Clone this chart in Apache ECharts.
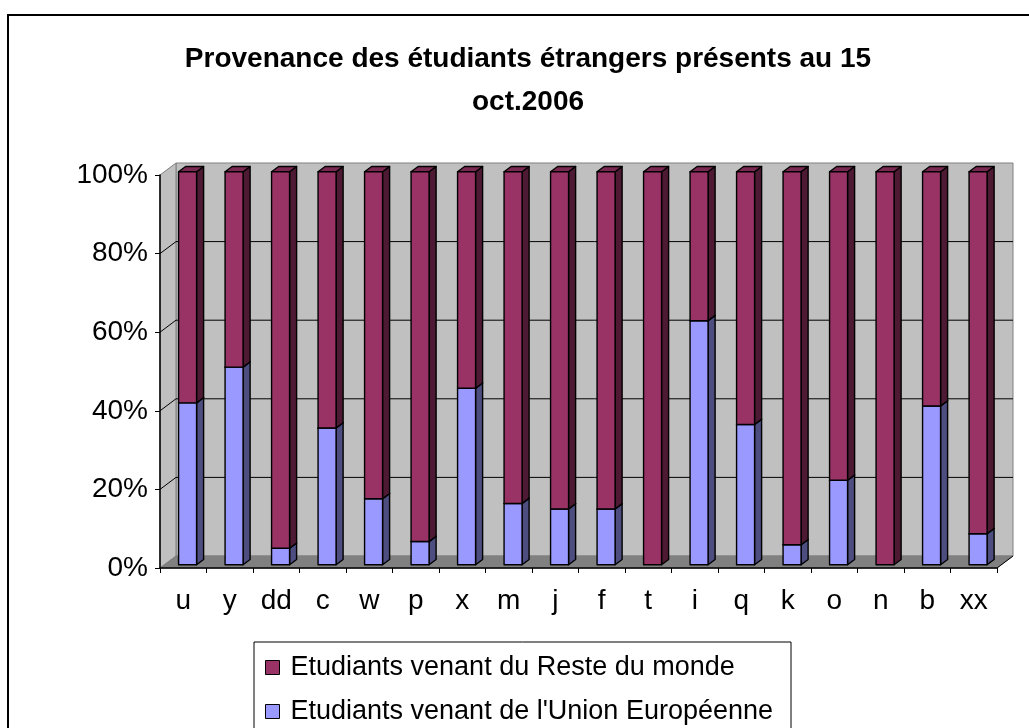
<!DOCTYPE html>
<html>
<head>
<meta charset="utf-8">
<script src="https://cdn.jsdelivr.net/npm/echarts/dist/echarts.min.js"></script>
<style>
  html, body { margin: 0; padding: 0; background: #fff; }
  #chart { width: 1029px; height: 728px; }
</style>
</head>
<body>
<div id="chart"></div>
<script>
// catégories (pays)
var categories = ['u', 'y', 'dd', 'c', 'w', 'p', 'x', 'm', 'j', 'f', 't', 'i', 'q', 'k', 'o', 'n', 'b', 'xx'];
// part des étudiants venant de l'Union Européenne (%)
var unionEuropeenne = [41.2, 50.3, 4.2, 34.8, 16.8, 5.9, 44.9, 15.6, 14.2, 14.2, 0, 62.1, 35.7, 5.1, 21.5, 0, 40.4, 7.9];
// part des étudiants venant du reste du monde (%)
var resteMonde = [58.8, 49.7, 95.8, 65.2, 83.2, 94.1, 55.1, 84.4, 85.8, 85.8, 100, 37.9, 64.3, 94.9, 78.5, 100, 59.6, 92.1];
// graduations de l'axe vertical
var yTicks = [0, 20, 40, 60, 80, 100];

var serieRM = 'Etudiants venant du Reste du monde';
var serieUE = "Etudiants venant de l'Union Européenne";

// profondeur de l'effet 3D (en pixels)
var DX = 16, DY = -12, F1 = 0.27, F2 = 0.71, BAR_W = 18;

// dessine une barre en relief (face avant, côté, dessus)
function box(api, idx, lo, hi, c) {
  var base = api.coord([idx, lo]);
  var top = api.coord([idx, hi]);
  var x0 = base[0] - BAR_W / 2 + DX * F1, x1 = x0 + BAR_W;
  var yb = base[1] + DY * F1, yt = top[1] + DY * F1;
  var ddx = DX * (F2 - F1), ddy = DY * (F2 - F1);
  var st = { stroke: '#000', lineWidth: 1.4, lineJoin: 'round' };
  return {
    type: 'group',
    children: [
      { type: 'polygon', shape: { points: [[x1, yb], [x1 + ddx, yb + ddy], [x1 + ddx, yt + ddy], [x1, yt]] },
        style: Object.assign({ fill: c.side }, st) },
      { type: 'polygon', shape: { points: [[x0, yt], [x1, yt], [x1 + ddx, yt + ddy], [x0 + ddx, yt + ddy]] },
        style: Object.assign({ fill: c.top }, st) },
      { type: 'rect', shape: { x: x0, y: yt, width: BAR_W, height: yb - yt },
        style: Object.assign({ fill: c.front }, st) }
    ]
  };
}

function barRenderer(c) {
  return function (params, api) {
    var lo = api.value(1), hi = api.value(2);
    if (hi - lo <= 0) return null;
    return box(api, api.value(0), lo, hi, c);
  };
}

// murs du fond, côté gauche et sol
function renderWalls(params, api) {
  var cs = params.coordSys;
  var L = cs.x, R = cs.x + cs.width, T = cs.y, B = cs.y + cs.height;
  var kids = [
    { type: 'rect', shape: { x: L + DX, y: T + DY, width: cs.width, height: cs.height },
      style: { fill: '#c0c0c0', stroke: '#808080', lineWidth: 1 } },
    { type: 'polygon', shape: { points: [[L, T], [L + DX, T + DY], [L + DX, B + DY], [L, B]] },
      style: { fill: '#c0c0c0', stroke: '#808080', lineWidth: 1 } },
    { type: 'polygon', shape: { points: [[L, B], [L + DX, B + DY], [R + DX, B + DY], [R, B]] },
      style: { fill: '#808080', stroke: '#808080', lineWidth: 1 } },
    { type: 'line', shape: { x1: R, y1: B, x2: R + DX, y2: B + DY },
      style: { stroke: '#000', lineWidth: 1 } }
  ];
  yTicks.forEach(function (v) {
    if (v <= yTicks[0] || v >= yTicks[yTicks.length - 1]) return;
    var y = api.coord([0, v])[1];
    kids.push({ type: 'polyline', shape: { points: [[L, y], [L + DX, y + DY], [R + DX, y + DY]] },
      style: { stroke: '#000', lineWidth: 1, fill: null } });
  });
  return { type: 'group', children: kids };
}

var chart = echarts.init(document.getElementById('chart'));

chart.setOption({
  animation: false,
  backgroundColor: '#fff',
  textStyle: { fontFamily: 'Liberation Sans, Arial, sans-serif' },
  graphic: [
    { // cadre du graphique
      type: 'rect', z: -10, silent: true,
      shape: { x: 8, y: 15, width: 1060, height: 740 },
      style: { fill: '#fff', stroke: '#000', lineWidth: 2 }
    },
    { // cadre de la légende
      type: 'rect', z: 10, silent: true,
      shape: { x: 254, y: 642, width: 537, height: 120 },
      style: { fill: '#fff', stroke: '#000', lineWidth: 1 }
    }
  ],
  title: {
    text: 'Provenance des étudiants étrangers présents au 15\noct.2006',
    left: 523, top: 33, textAlign: 'center',
    textStyle: { fontSize: 28, fontWeight: 'bold', color: '#000', lineHeight: 43, fontFamily: 'Liberation Sans, Arial, sans-serif' }
  },
  legend: {
    orient: 'vertical',
    left: 254, top: 642, z: 11,
    padding: [12, 10, 0, 11],
    itemGap: 17, itemWidth: 14, itemHeight: 14,
    icon: 'rect',
    itemStyle: { borderColor: '#000', borderWidth: 1 },
    textStyle: { fontSize: 27, color: '#000', padding: [0, 0, 0, 6] },
    data: [serieRM, serieUE]
  },
  grid: { left: 160, right: 32, top: 175, bottom: 160 },
  xAxis: {
    type: 'category', data: categories, z: 5,
    axisLine: { lineStyle: { color: '#000', width: 1.5 } },
    axisTick: { show: true, length: 5, lineStyle: { color: '#000' } },
    axisLabel: { fontSize: 28, color: '#000', margin: 19 }
  },
  yAxis: {
    type: 'value', min: 0, max: 100, interval: 20, z: 5,
    axisLine: { show: true, lineStyle: { color: '#000', width: 1.5 } },
    axisTick: { show: true, length: 5, lineStyle: { color: '#000' } },
    axisLabel: { fontSize: 28, color: '#000', margin: 12, padding: [7, 0, 0, 0], formatter: '{value}%' },
    splitLine: { show: false }
  },
  series: [
    {
      type: 'custom', name: 'walls', z: 1, silent: true,
      renderItem: renderWalls,
      data: [[0, 0]]
    },
    {
      type: 'custom', name: serieUE, z: 2,
      itemStyle: { color: '#9999ff' },
      renderItem: barRenderer({ front: '#9999ff', side: '#4d4d80', top: '#7a7acc' }),
      encode: { x: 0, y: 2 },
      data: categories.map(function (c, i) { return [i, 0, unionEuropeenne[i]]; })
    },
    {
      type: 'custom', name: serieRM, z: 3,
      itemStyle: { color: '#993366' },
      renderItem: barRenderer({ front: '#993366', side: '#4d1933', top: '#7a2952' }),
      encode: { x: 0, y: 2 },
      data: categories.map(function (c, i) {
        return [i, unionEuropeenne[i], unionEuropeenne[i] + resteMonde[i]];
      })
    }
  ]
});
</script>
</body>
</html>
